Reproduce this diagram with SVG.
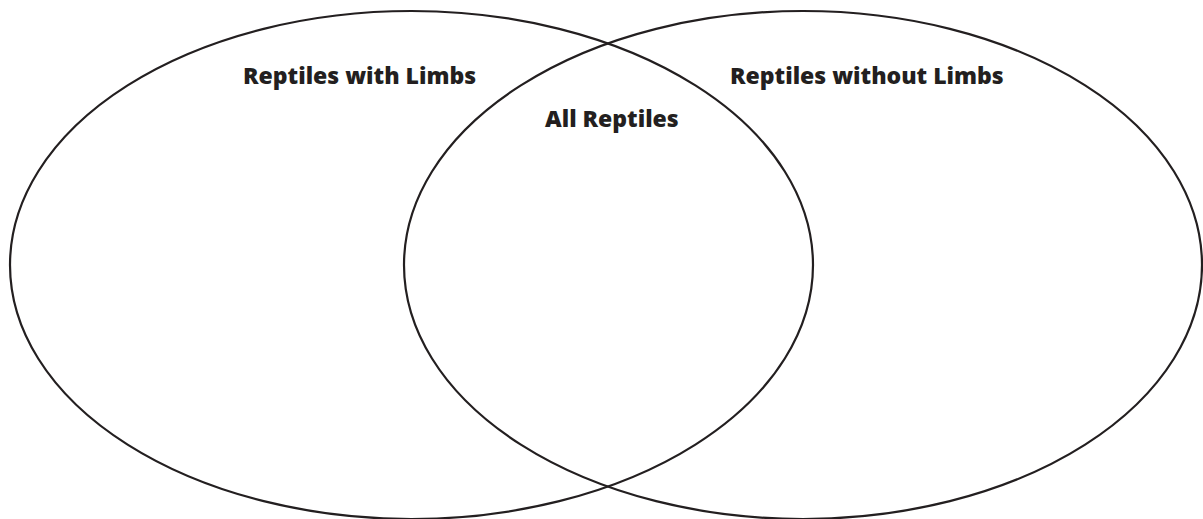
<svg xmlns="http://www.w3.org/2000/svg" width="1203" height="519" viewBox="0 0 1203 519">
<style>
.set{fill:none;stroke:#231f20;stroke-width:2.2}
.lbl{font-family:"Open Sans","Noto Sans","DejaVu Sans",sans-serif;font-weight:800;font-size:23px;fill:#231f20}
</style>
<rect width="1203" height="519" fill="#ffffff"/>
<g id="with-limbs">
<ellipse class="set" cx="411.5" cy="265" rx="401.5" ry="254"/>
<text class="lbl" x="243" y="84">Reptiles with Limbs</text>
</g>
<g id="without-limbs">
<ellipse class="set" cx="803" cy="265" rx="399" ry="254"/>
<text class="lbl" x="730" y="84">Reptiles without Limbs</text>
</g>
<g id="all-reptiles">
<text class="lbl" x="545" y="127">All Reptiles</text>
</g>
<g id="connectors"/>
</svg>
